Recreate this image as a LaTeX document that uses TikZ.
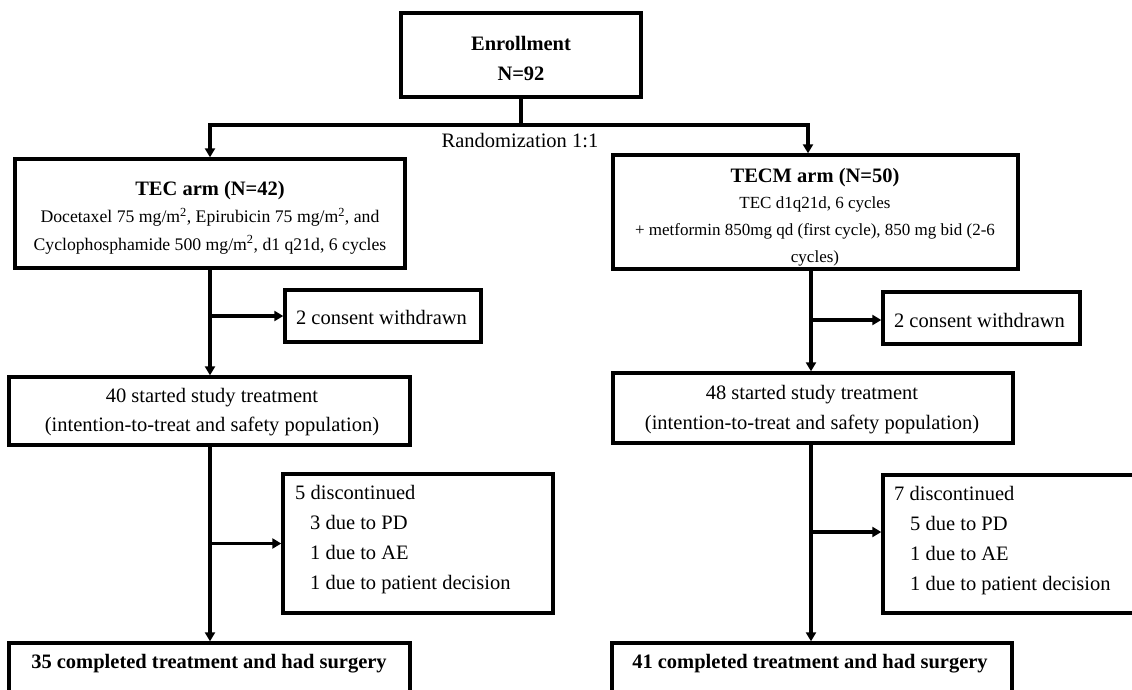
\documentclass[tikz,border=0pt]{standalone}
\usepackage{fontspec}
\setmainfont{Liberation Serif}
\usetikzlibrary{arrows.meta}
\begin{document}
\begin{tikzpicture}[x=1pt,y=-1pt,
  box/.style={draw=black, line width=3.4pt, rectangle, inner sep=0pt},
  txt/.style={inner sep=0pt, align=center, font=\fontsize{20.5}{27.5}\selectfont},
  wire/.style={line width=3.2pt},
  conn/.style={line width=3.2pt, -{Triangle[length=9pt,width=10pt]}}]
\useasboundingbox (0,0) rectangle (1132,689);
\fill[white] (0,0) rectangle (1132,689);
\clip (0,0) rectangle (1132,689);

% boxes
\node[box, minimum width=240pt, minimum height=84pt] (enroll) at (521,55) {};
\node[box, minimum width=390pt, minimum height=109pt] (tec) at (210,213.5) {};
\node[box, minimum width=405pt, minimum height=114pt] (tecm) at (815.5,212) {};
\node[box, minimum width=196pt, minimum height=52pt] (cons1) at (383,316) {};
\node[box, minimum width=197pt, minimum height=52pt] (cons2) at (981.5,318) {};
\node[box, minimum width=401pt, minimum height=68pt] (start1) at (209.5,411) {};
\node[box, minimum width=400pt, minimum height=70pt] (start2) at (813,408) {};
\node[box, minimum width=270pt, minimum height=139pt] (disc1) at (418,543.5) {};
\node[box, minimum width=277pt, minimum height=138pt] (disc2) at (1021.5,544) {};
\node[box, minimum width=401pt, minimum height=77pt] (done1) at (209.5,681.5) {};
\node[box, minimum width=400pt, minimum height=77pt] (done2) at (812,681.5) {};

% texts
\node[txt, font=\fontsize{20.5}{30}\selectfont\bfseries] (enrolltxt) at (521,58) {Enrollment\\N=92};
\node[txt] (rand) at (520,141) {Randomization 1:1};
\node[txt, font=\fontsize{17.7}{27.5}\selectfont] (tectxt) at (210,217.5) {{\fontsize{20.5}{27.5}\selectfont\bfseries TEC arm (N=42)}\\Docetaxel 75 mg/m\textsuperscript{2}, Epirubicin 75 mg/m\textsuperscript{2}, and\\Cyclophosphamide 500 mg/m\textsuperscript{2}, d1 q21d, 6 cycles};
\node[txt, font=\fontsize{17}{26.7}\selectfont] (tecmtxt) at (815,217) {{\fontsize{20.5}{26.7}\selectfont\bfseries TECM arm (N=50)}\\TEC d1q21d, 6 cycles\\+ metformin 850mg qd (first cycle), 850 mg bid (2-6\\cycles)};
\node[txt] (cons1txt) at (381.5,317) {2 consent withdrawn};
\node[txt] (cons2txt) at (979.5,320) {2 consent withdrawn};
\node[txt, font=\fontsize{20.5}{29}\selectfont] (start1txt) at (212,412.5) {40 started study treatment\\(intention-to-treat and safety population)};
\node[txt, font=\fontsize{20.5}{30}\selectfont] (start2txt) at (812,410) {48 started study treatment\\(intention-to-treat and safety population)};
\node[txt, align=left, anchor=west, font=\fontsize{20.5}{30}\selectfont] (disc1txt) at (295,540) {5 discontinued\\\hspace*{15pt}3 due to PD\\\hspace*{15pt}1 due to AE\\\hspace*{15pt}1 due to patient decision};
\node[txt, align=left, anchor=west, font=\fontsize{20.5}{30}\selectfont] (disc2txt) at (894,541) {7 discontinued\\\hspace*{16pt}5 due to PD\\\hspace*{16pt}1 due to AE\\\hspace*{16pt}1 due to patient decision};
\node[txt, font=\fontsize{20.5}{27.5}\selectfont\bfseries] (done1txt) at (209,664) {35 completed treatment and had surgery};
\node[txt, font=\fontsize{20.5}{27.5}\selectfont\bfseries] (done2txt) at (810,664) {41 completed treatment and had surgery};

% connectors
\coordinate (split) at (521,125);
\coordinate (rv) at (811,0);
\draw[wire] (enroll.south) -- (split);
\draw[conn] (split) -| (tec.north);
\draw[conn] (split) -| ([xshift=-7.5pt]tecm.north);

\draw[conn] (tec.south) -- (tec.south |- start1.north);
\draw[conn] (tec.south |- cons1.west) -- (cons1.west);
\draw[conn] (tec.south |- start1.south) -- (tec.south |- done1.north);
\draw[conn] (tec.south |- disc1.west) -- (disc1.west);

\draw[conn] (rv |- tecm.south) -- (rv |- start2.north);
\draw[conn] ([yshift=-2pt]rv |- cons2.west) -- ([yshift=-2pt]cons2.west);
\draw[conn] (rv |- start2.south) -- (rv |- done2.north);
\draw[conn] ([yshift=12pt]rv |- disc2.west) -- ([yshift=12pt]disc2.west);
\end{tikzpicture}
\end{document}
